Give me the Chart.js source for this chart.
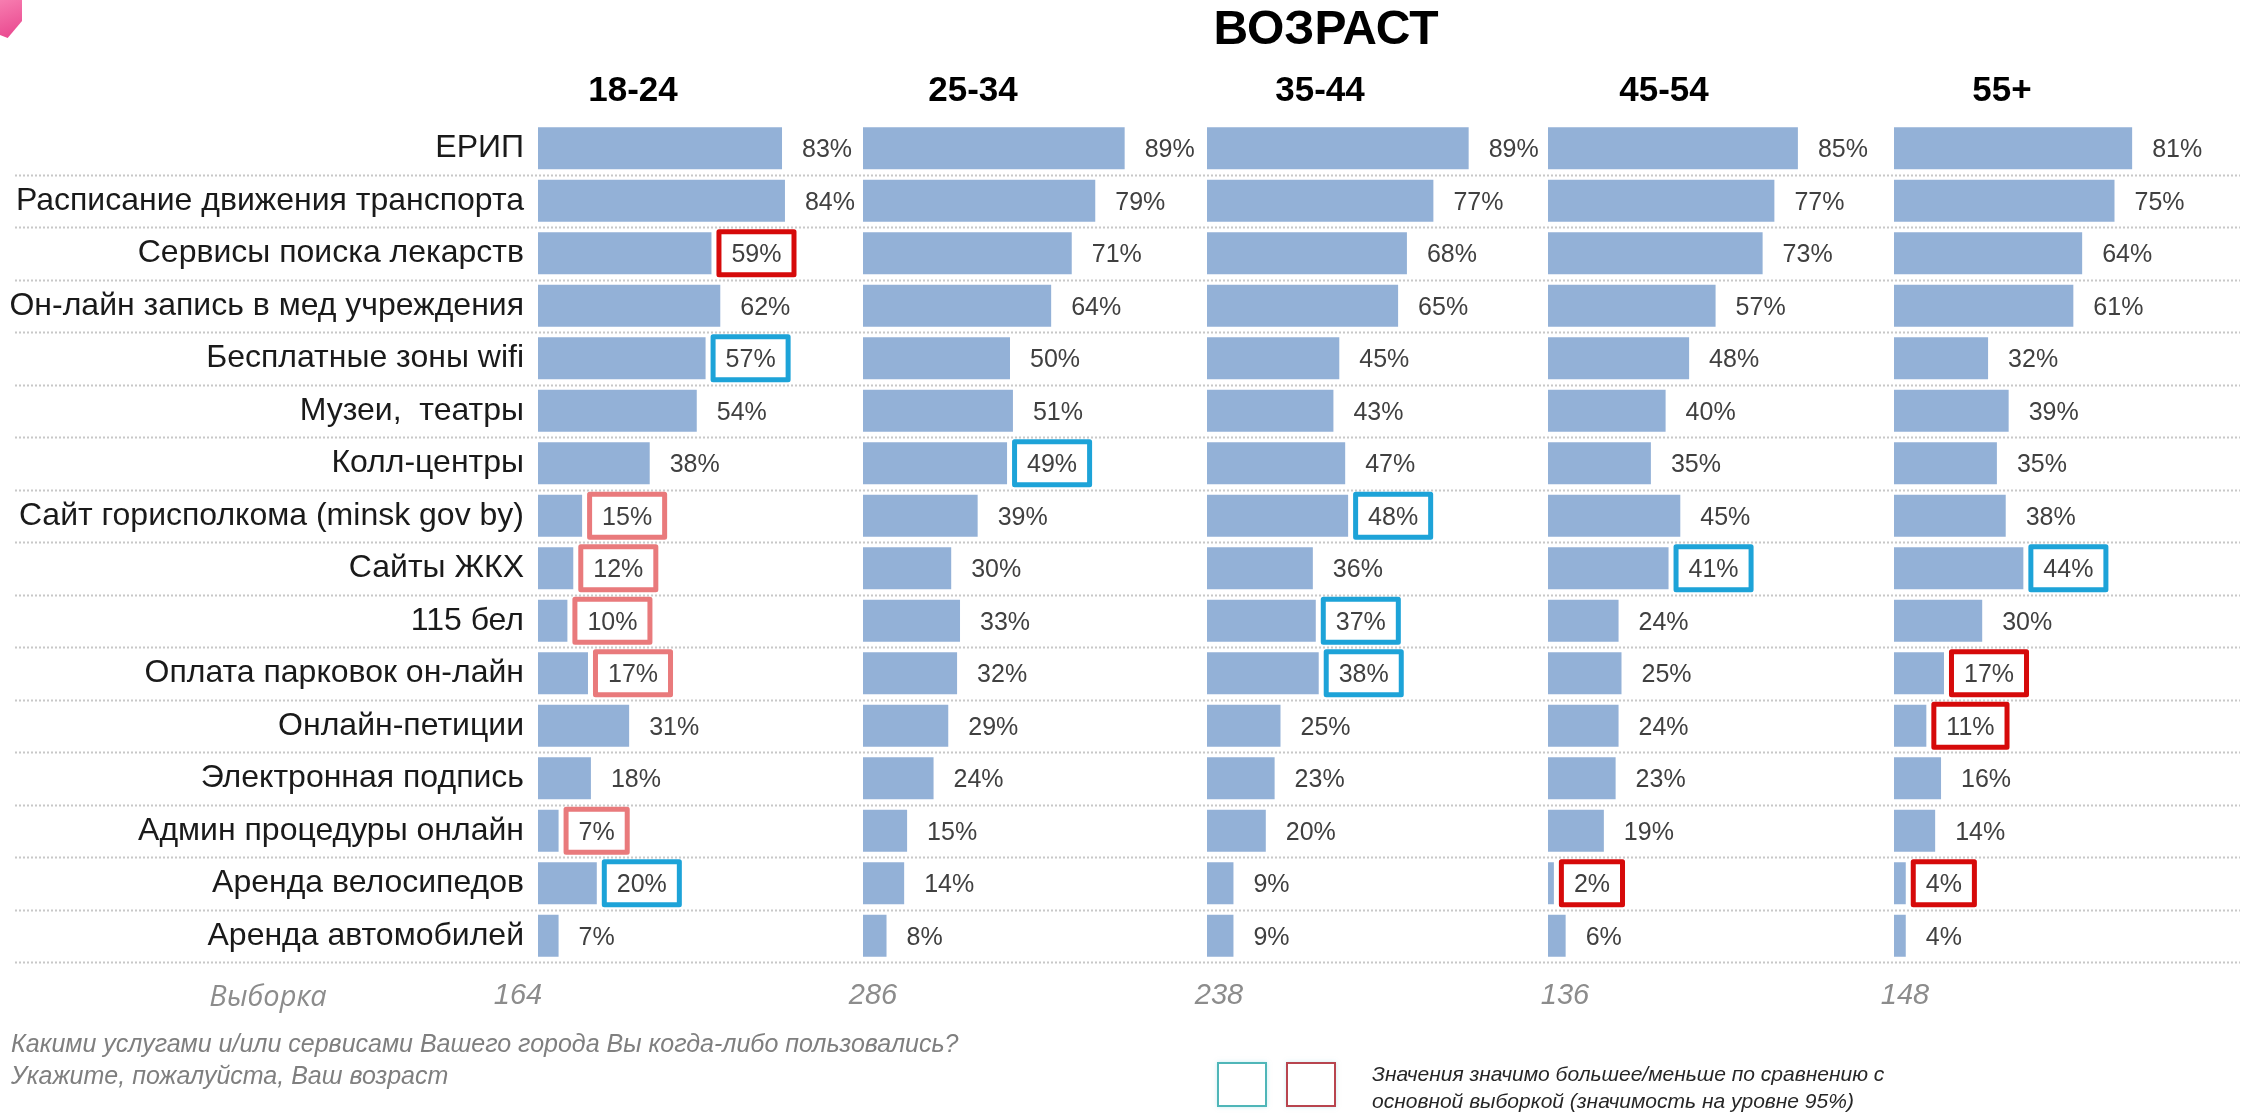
<!DOCTYPE html>
<html><head><meta charset="utf-8">
<script src="https://cdn.jsdelivr.net/npm/chart.js@4.4.1/dist/chart.umd.min.js"></script>
<style>
html,body{margin:0;padding:0;background:#fff;}
#wrap{position:relative;width:2247px;height:1117px;overflow:hidden;background:#fff;font-family:'Liberation Sans',Arial,sans-serif;}
canvas{position:absolute;left:0;top:0;}
.t{position:absolute;white-space:nowrap;}
.c{transform:translate(-50%,-50%);}
.m{transform:translate(0,-50%);}
#corner{position:absolute;left:0;top:0;width:22px;height:38px;background:linear-gradient(160deg,#f77db0,#e8448c);clip-path:polygon(0 0,100% 0,100% 55%,35% 100%,0 92%);}
.sq{position:absolute;width:46px;height:41px;border:2px solid;box-shadow:0 0 4px rgba(150,220,230,0.5);}
</style></head><body>
<div id="wrap">
<div id="corner"></div>
<canvas id="c0" width="2247" height="1117"></canvas>
<canvas id="c1" width="2247" height="1117"></canvas>
<canvas id="c2" width="2247" height="1117"></canvas>
<canvas id="c3" width="2247" height="1117"></canvas>
<canvas id="c4" width="2247" height="1117"></canvas>
</div>
<script>
// ---------- data ----------
const mainTitle = 'ВОЗРАСТ';
const groups = ['18-24', '25-34', '35-44', '45-54', '55+'];
const categories = [
  'ЕРИП', 'Расписание движения транспорта', 'Сервисы поиска лекарств',
  'Он-лайн запись в мед учреждения', 'Бесплатные зоны wifi', 'Музеи,  театры',
  'Колл-центры', 'Сайт горисполкома (minsk gov by)', 'Сайты ЖКХ', '115 бел',
  'Оплата парковок он-лайн', 'Онлайн-петиции', 'Электронная подпись',
  'Админ процедуры онлайн', 'Аренда велосипедов', 'Аренда автомобилей'
];
const values1824 = [83, 84, 59, 62, 57, 54, 38, 15, 12, 10, 17, 31, 18, 7, 20, 7];
const values2534 = [89, 79, 71, 64, 50, 51, 49, 39, 30, 33, 32, 29, 24, 15, 14, 8];
const values3544 = [89, 77, 68, 65, 45, 43, 47, 48, 36, 37, 38, 25, 23, 20, 9, 9];
const values4554 = [85, 77, 73, 57, 48, 40, 35, 45, 41, 24, 25, 24, 23, 19, 2, 6];
const values55 = [81, 75, 64, 61, 32, 39, 35, 38, 44, 30, 17, 11, 16, 14, 4, 4];
// significance marks: 'hi' = significantly higher, 'lo' / 'lo2' = significantly lower
const flags1824 = ['', '', 'lo', '', 'hi', '', '', 'lo2', 'lo2', 'lo2', 'lo2', '', '', 'lo2', 'hi', ''];
const flags2534 = ['', '', '', '', '', '', 'hi', '', '', '', '', '', '', '', '', ''];
const flags3544 = ['', '', '', '', '', '', '', 'hi', '', 'hi', 'hi', '', '', '', '', ''];
const flags4554 = ['', '', '', '', '', '', '', '', 'hi', '', '', '', '', '', 'lo', ''];
const flags55 = ['', '', '', '', '', '', '', '', 'hi', '', 'lo', 'lo', '', '', 'lo', ''];
const sampleLabel = 'Выборка';
const sampleSizes = [164, 286, 238, 136, 148];
const questionLines = ['Какими услугами и/или сервисами Вашего города Вы когда-либо пользовались?', 'Укажите, пожалуйста, Ваш возраст'];
const legendLines = ['Значения значимо большее/меньше по сравнению с', 'основной выборкой (значимость на уровне 95%)'];

// ---------- layout ----------
const W = 2247, H = 1117, TOP = 122, BOTTOM = 962, AREA = 294;
const LEFTS = [538, 863, 1207, 1548, 1894];
const HEADER_X = [633, 973, 1320, 1664, 2002];
const SAMPLE_X = [518, 873, 1219, 1565, 1905];
const seriesList = [values1824, values2534, values3544, values4554, values55];
const flagList = [flags1824, flags2534, flags3544, flags4554, flags55];
const BAR = '#93b1d7';
const BOX = {hi: '#1da3d8', lo: '#d60a0a', lo2: '#e97a7c'};

const wrap = document.getElementById('wrap');
function addText(txt, x, y, css, cls) {
  const d = document.createElement('div');
  d.className = 't ' + (cls || 'c');
  d.textContent = txt;
  d.style.left = x + 'px'; d.style.top = y + 'px';
  d.style.cssText += css;
  wrap.appendChild(d);
  return d;
}
addText(mainTitle, 1326, 27, 'font-weight:bold;font-size:48px;color:#000;');
groups.forEach((g, i) => addText(g, HEADER_X[i], 89, 'font-weight:bold;font-size:35px;color:#000;'));
addText(sampleLabel, 268, 994, "font-style:italic;font-size:29px;color:#8c8c8c;font-family:'Open Sans','Liberation Sans',sans-serif;");
sampleSizes.forEach((s, i) => addText(String(s), SAMPLE_X[i], 994, 'font-style:italic;font-size:29px;color:#8c8c8c;'));
questionLines.forEach((l, i) => addText(l, 11, 1043 + i * 32, 'font-style:italic;font-size:25px;color:#7f7f7f;', 'm'));
legendLines.forEach((l, i) => addText(l, 1372, 1074 + i * 27, 'font-style:italic;font-size:21px;color:#262626;', 'm'));
[['#4fb6b8', 1217], ['#b8454f', 1286]].forEach(([col, x]) => {
  const s = document.createElement('div');
  s.className = 'sq'; s.style.left = x + 'px'; s.style.top = '1062px'; s.style.borderColor = col;
  wrap.appendChild(s);
});

// ---------- plugins ----------
const separators = {
  id: 'separators',
  beforeDatasetsDraw(chart) {
    const ys = chart.scales.y; const ctx = chart.ctx;
    const n = chart.data.labels.length; const band = (ys.bottom - ys.top) / n;
    ctx.save();
    ctx.strokeStyle = '#c8c8c8'; ctx.lineWidth = 2; ctx.setLineDash([2, 2]);
    for (let i = 1; i <= n; i++) {
      const y = Math.round(ys.top + i * band) + 0.5;
      ctx.beginPath(); ctx.moveTo(15, y); ctx.lineTo(2240, y); ctx.stroke();
    }
    ctx.restore();
  }
};
const valueLabels = {
  id: 'valueLabels',
  afterDatasetsDraw(chart) {
    const ctx = chart.ctx; const meta = chart.getDatasetMeta(0);
    const vals = chart.data.datasets[0].data; const flags = chart.data.datasets[0].flags;
    ctx.save();
    ctx.font = "25px 'Liberation Sans', Arial, sans-serif";
    ctx.textBaseline = 'middle'; ctx.textAlign = 'left';
    meta.data.forEach((bar, i) => {
      const txt = vals[i] + '%';
      const tx = bar.x + 20, ty = bar.y + 2;
      ctx.fillStyle = '#404040';
      ctx.fillText(txt, tx, ty);
      const f = flags[i];
      if (f) {
        const tw = ctx.measureText(txt).width;
        ctx.strokeStyle = BOX[f]; ctx.lineWidth = 5; ctx.lineJoin = 'round';
        ctx.strokeRect(tx - 12.5, bar.y - 21.5, tw + 25, 43);
      }
    });
    ctx.restore();
  }
};

// ---------- charts ----------
seriesList.forEach((vals, k) => {
  const first = k === 0;
  new Chart(document.getElementById('c' + k), {
    type: 'bar',
    data: {
      labels: categories,
      datasets: [{data: vals, flags: flagList[k], backgroundColor: BAR, borderWidth: 0,
        barPercentage: 0.8, categoryPercentage: 1}]
    },
    options: {
      indexAxis: 'y', responsive: false, animation: false, devicePixelRatio: 1,
      layout: {padding: {left: first ? 0 : LEFTS[k], right: W - LEFTS[k] - AREA, top: TOP, bottom: H - BOTTOM}},
      scales: {
        x: {display: false, min: 0, max: 100},
        y: first ? {
          display: true,
          grid: {display: false, drawTicks: false}, border: {display: false},
          ticks: {color: '#1a1a1a', padding: 14, font: {family: "'Liberation Sans', Arial, sans-serif", size: 32}},
          afterFit(s) { s.width = LEFTS[0]; }
        } : {display: false}
      },
      plugins: {legend: {display: false}, tooltip: {enabled: false}, title: {display: false}}
    },
    plugins: first ? [separators, valueLabels] : [valueLabels]
  });
});
</script>
</body></html>
